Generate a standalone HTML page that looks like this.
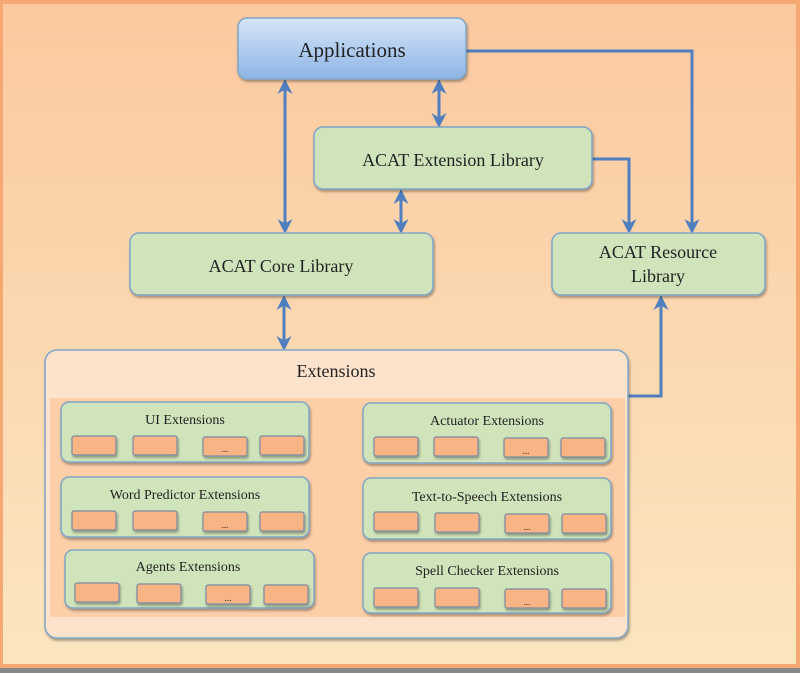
<!DOCTYPE html>
<html><head><meta charset="utf-8"><style>
html,body{margin:0;padding:0;width:800px;height:673px;overflow:hidden;background:#888}
text{font-family:"Liberation Serif",serif;fill:#222;text-anchor:middle}
</style></head><body>
<svg width="800" height="673" viewBox="0 0 800 673" xmlns="http://www.w3.org/2000/svg">
<defs>
<linearGradient id="bg" x1="0" y1="0" x2="0" y2="1"><stop offset="0" stop-color="#fbc9a0"/><stop offset="1" stop-color="#fbe6bf"/></linearGradient>
<linearGradient id="app" x1="0" y1="0" x2="0" y2="1"><stop offset="0" stop-color="#d6e6f8"/><stop offset="1" stop-color="#8db4e6"/></linearGradient>
<marker id="ah" viewBox="0 0 10 10" refX="8" refY="5" markerWidth="5" markerHeight="5" orient="auto-start-reverse"><path d="M0,0 L10,5 L0,10 L3,5 z" fill="#4f7fbf"/></marker>
<filter id="sh" x="-5%" y="-5%" width="110%" height="120%"><feDropShadow dx="1" dy="2" stdDeviation="1.2" flood-color="#000" flood-opacity="0.35"/></filter>
</defs>
<rect x="0" y="0" width="800" height="668" fill="#f6a872"/>
<rect x="3" y="4" width="793" height="660" fill="url(#bg)"/>
<g stroke="#4f7fbf" stroke-width="3" fill="none">
<line x1="285" y1="82" x2="285" y2="231" marker-start="url(#ah)" marker-end="url(#ah)"/>
<line x1="439" y1="82" x2="439" y2="125" marker-start="url(#ah)" marker-end="url(#ah)"/>
<line x1="401" y1="192" x2="401" y2="231" marker-start="url(#ah)" marker-end="url(#ah)"/>
<line x1="284" y1="298" x2="284" y2="348" marker-start="url(#ah)" marker-end="url(#ah)"/>
<polyline points="466,51 692,51 692,231" marker-end="url(#ah)"/>
<polyline points="592,159 629,159 629,231" marker-end="url(#ah)"/>
<polyline points="628,396 661,396 661,298" marker-end="url(#ah)"/>
</g>
<g stroke="#7ea6c8" stroke-width="1.5" filter="url(#sh)">
<rect x="238" y="18" width="228" height="61" rx="9" fill="url(#app)"/>
<rect x="314" y="127" width="278" height="62" rx="9" fill="#d0e4bb"/>
<rect x="130" y="233" width="303" height="62" rx="9" fill="#d0e4bb"/>
<rect x="552" y="233" width="213" height="62" rx="9" fill="#d0e4bb"/>
<rect x="45" y="350" width="583" height="288" rx="12" fill="#fde2cc"/>
</g>
<rect x="50" y="398" width="575" height="219" fill="#fccfa8"/>
<text x="352" y="57" font-size="21">Applications</text>
<text x="453" y="166" font-size="18">ACAT Extension Library</text>
<text x="281" y="272" font-size="18">ACAT Core Library</text>
<text x="658" y="258" font-size="18">ACAT Resource</text>
<text x="658" y="282" font-size="18">Library</text>
<text x="336" y="377" font-size="18">Extensions</text>
<g id="boxes">
</g>
<g stroke="#7ea6c8" stroke-width="1.5" fill="#d0e4bb" filter="url(#sh)">
<rect x="61" y="402" width="248" height="60" rx="8"/>
<rect x="363" y="403" width="248" height="60" rx="8"/>
<rect x="61" y="477" width="248" height="60" rx="8"/>
<rect x="363" y="478" width="248" height="61" rx="8"/>
<rect x="65" y="550" width="249" height="58" rx="8"/>
<rect x="363" y="553" width="248" height="60" rx="8"/>
</g>
<g font-size="14">
<text x="185" y="424">UI Extensions</text>
<text x="487" y="425">Actuator Extensions</text>
<text x="185" y="499">Word Predictor Extensions</text>
<text x="487" y="501">Text-to-Speech  Extensions</text>
<text x="188" y="571">Agents Extensions</text>
<text x="487" y="575">Spell Checker Extensions</text>
</g>
<g stroke="#7c8aa0" stroke-width="1.2" fill="#f9b486" filter="url(#sh)">
<rect x="72" y="436" width="44" height="19" rx="2"/><rect x="133" y="436" width="44" height="19" rx="2"/><rect x="203" y="437" width="44" height="19" rx="2"/><rect x="260" y="436" width="44" height="19" rx="2"/>
<rect x="374" y="437" width="44" height="19" rx="2"/><rect x="434" y="437" width="44" height="19" rx="2"/><rect x="504" y="438" width="44" height="19" rx="2"/><rect x="561" y="438" width="44" height="19" rx="2"/>
<rect x="72" y="511" width="44" height="19" rx="2"/><rect x="133" y="511" width="44" height="19" rx="2"/><rect x="203" y="512" width="44" height="19" rx="2"/><rect x="260" y="512" width="44" height="19" rx="2"/>
<rect x="374" y="512" width="44" height="19" rx="2"/><rect x="435" y="513" width="44" height="19" rx="2"/><rect x="505" y="514" width="44" height="19" rx="2"/><rect x="562" y="514" width="44" height="19" rx="2"/>
<rect x="75" y="583" width="44" height="19" rx="2"/><rect x="137" y="584" width="44" height="19" rx="2"/><rect x="206" y="585" width="44" height="19" rx="2"/><rect x="264" y="585" width="44" height="19" rx="2"/>
<rect x="374" y="588" width="44" height="19" rx="2"/><rect x="435" y="588" width="44" height="19" rx="2"/><rect x="505" y="589" width="44" height="19" rx="2"/><rect x="562" y="589" width="44" height="19" rx="2"/>
</g>
<g font-size="9">
<text x="225" y="452">...</text><text x="526" y="454">...</text>
<text x="225" y="528">...</text><text x="527" y="530">...</text>
<text x="228" y="601">...</text><text x="527" y="605">...</text>
</g>
</svg>
</body></html>
